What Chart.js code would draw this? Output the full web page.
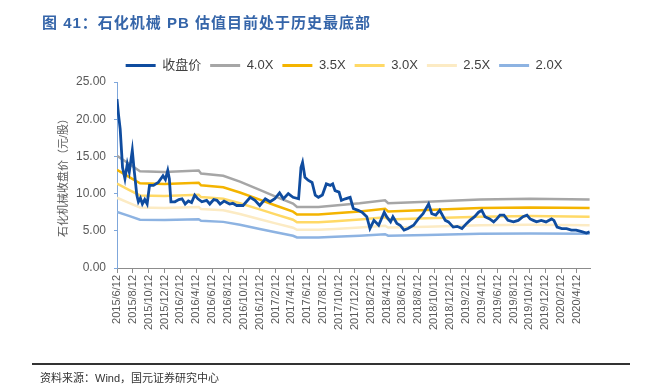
<!DOCTYPE html>
<html>
<head>
<meta charset="utf-8">
<script src="https://cdn.jsdelivr.net/npm/chart.js@4.4.0/dist/chart.umd.min.js"></script>
<style>
html, body { margin: 0; padding: 0; background: #fff; }
#wrap { position: relative; width: 662px; height: 392px; overflow: hidden; }
#title { position: absolute; left: 42px; top: 11px; font: bold 15px "Liberation Sans", "Noto Sans CJK SC", sans-serif; color: #3565a9; letter-spacing: 1px; white-space: nowrap; }
#rule { position: absolute; left: 32px; top: 363px; width: 598px; height: 2px; background: #333; }
#source { position: absolute; left: 40px; top: 369px; font: 11px "Liberation Sans", "Noto Sans CJK SC", sans-serif; color: #333; white-space: nowrap; }
#chart { position: absolute; left: 0; top: 0; }
</style>
</head>
<body>
<div id="wrap">
  <canvas id="chart" width="662" height="392"></canvas>
  <div id="title">图 41：石化机械 PB 估值目前处于历史最底部</div>
  <div id="rule"></div>
  <div id="source">资料来源：Wind，国元证券研究中心</div>
</div>
<script>
// x positions are months since 2015/6/12
var tickLabels = [
    '2015/6/12', '2015/8/12', '2015/10/12', '2015/12/12',
    '2016/2/12', '2016/4/12', '2016/6/12', '2016/8/12', '2016/10/12', '2016/12/12',
    '2017/2/12', '2017/4/12', '2017/6/12', '2017/8/12', '2017/10/12', '2017/12/12',
    '2018/2/12', '2018/4/12', '2018/6/12', '2018/8/12', '2018/10/12', '2018/12/12',
    '2019/2/12', '2019/4/12', '2019/6/12', '2019/8/12', '2019/10/12', '2019/12/12',
    '2020/2/12', '2020/4/12',
];

var seriesNames = ['收盘价', '4.0X', '3.5X', '3.0X', '2.5X', '2.0X'];

var priceMonths = [
    0, 0.2, 0.4, 0.7, 1.0, 1.3, 1.55, 1.93, 2.15, 2.5, 2.7, 2.95, 3.2, 3.5, 3.8,
    4.1, 4.6, 5.2, 5.8, 6.1, 6.4, 6.6, 6.8, 7.3, 7.8, 8.2, 8.6, 9.0, 9.4, 9.8,
    10.2, 10.7, 11.3, 11.7, 12.2, 12.6, 13.0, 13.5, 14.2, 14.6, 15.1, 15.9, 16.8, 17.4, 18.0,
    18.7, 19.3, 19.9, 20.5, 21.0, 21.6, 22.2, 22.9, 23.2, 23.4, 23.7, 24.1, 24.6, 25.0, 25.4,
    25.9, 26.4, 26.9, 27.2, 27.5, 28.0, 28.3, 28.8, 29.4, 29.8, 30.4, 30.9, 31.5, 31.9, 32.4,
    33.0, 33.7, 34.0, 34.5, 34.8, 35.3, 35.7, 36.2, 36.7, 37.4, 38.0, 38.6, 39.3, 39.7, 40.2,
    40.7, 41.4, 41.8, 42.4, 42.9, 43.5, 44.1, 44.5, 45.1, 45.6, 46.0, 46.4, 47.0, 47.5, 47.9,
    48.3, 48.8, 49.3, 50.0, 50.6, 51.2, 51.7, 52.1, 52.5, 52.9, 53.5, 54.1, 54.8, 55.1, 55.5,
    56.1, 56.7, 57.3, 57.9, 58.6, 59.2, 59.6,
];
var priceValues = [
    22.7, 20.5, 18.7, 13.5, 12.0, 14.0, 12.9, 15.8, 13.3, 9.8, 8.9, 9.4, 8.6, 9.2, 8.6,
    11.1, 11.1, 11.5, 12.4, 11.9, 13.1, 12.0, 8.9, 8.9, 9.2, 9.3, 8.6, 9.0, 8.8, 9.8,
    9.3, 8.9, 9.1, 8.6, 9.2, 9.1, 8.6, 9.0, 8.6, 8.7, 8.4, 8.4, 9.5, 9.1, 8.4,
    9.3, 8.9, 9.3, 10.1, 9.3, 10.0, 9.5, 9.3, 13.5, 14.2, 12.2, 11.8, 11.5, 9.8, 9.5,
    9.8, 11.3, 11.1, 11.3, 10.4, 10.2, 9.1, 9.3, 9.5, 8.0, 7.75, 7.5, 6.9, 5.3, 6.4,
    5.75, 7.5, 6.9, 6.2, 6.9, 6.0, 5.75, 5.1, 5.3, 5.75, 6.6, 7.3, 8.6, 7.3, 7.1,
    7.75, 6.4, 6.2, 5.5, 5.6, 5.3, 6.0, 6.4, 6.9, 7.5, 7.75, 6.9, 6.6, 6.2, 6.6,
    7.1, 7.1, 6.4, 6.2, 6.4, 6.9, 7.1, 6.6, 6.4, 6.2, 6.4, 6.2, 6.6, 6.4, 5.5,
    5.3, 5.3, 5.1, 5.1, 4.9, 4.7, 4.85,
];

var bandMonths = [0, 1.5, 2.9, 6, 10.3, 10.6, 13.4, 15.5, 18, 20, 22.2, 22.7, 25.4, 27.5, 30.6, 33.8, 34.2, 39.1, 45.8, 52.1, 59.6];
var pb40 = [15.1, 14.0, 13.0, 12.9, 13.1, 12.7, 12.4, 11.6, 10.5, 9.6, 8.65, 8.2, 8.2, 8.4, 8.7, 9.1, 8.7, 8.9, 9.2, 9.3, 9.2];
var pb35 = [13.21, 12.25, 11.38, 11.29, 11.46, 11.11, 10.85, 10.15, 9.19, 8.4, 7.57, 7.18, 7.18, 7.35, 7.61, 7.96, 7.61, 7.79, 8.05, 8.14, 8.05];
var pb30 = [11.33, 10.5, 9.75, 9.68, 9.83, 9.53, 9.3, 8.7, 7.88, 7.2, 6.49, 6.15, 6.15, 6.3, 6.53, 6.83, 6.53, 6.68, 6.9, 6.98, 6.9];
var pb25 = [9.44, 8.75, 8.13, 8.06, 8.19, 7.94, 7.75, 7.25, 6.56, 6.0, 5.41, 5.13, 5.13, 5.25, 5.44, 5.69, 5.44, 5.56, 5.75, 5.81, 5.75];
var pb20 = [7.55, 7.0, 6.5, 6.45, 6.55, 6.35, 6.2, 5.8, 5.25, 4.8, 4.33, 4.1, 4.1, 4.2, 4.35, 4.55, 4.35, 4.45, 4.6, 4.65, 4.6];

var lineColors = ['#0f4c9f', '#a6a6a6', '#f4b400', '#ffd966', '#fcebc4', '#8db3e2'];
var lineWidths = [2.8, 2.5, 2.5, 2.5, 2.5, 2.5];

function toPoints(xs, ys) {
    return xs.map(function (x, i) { return { x: x, y: ys[i] }; });
}

function makeDataset(i, xs, ys) {
    return {
        label: seriesNames[i],
        data: toPoints(xs, ys),
        borderColor: lineColors[i],
        backgroundColor: lineColors[i],
        pointBorderColor: lineColors[i],
        pointBorderWidth: 3,
        borderWidth: lineWidths[i],
        pointRadius: 0,
        tension: 0,
    };
}

var font = '"Liberation Sans", "Noto Sans CJK SC", sans-serif';

// shift the legend so it sits where the original puts it
var legendShift = {
    id: 'legendShift',
    afterLayout: function (chart) {
        if (chart.legend) {
            chart.legend.left += 22;
            chart.legend.right += 22;
        }
    }
};

const chart = new Chart(document.getElementById('chart').getContext('2d'), {
    type: 'line',
    data: {
        datasets: [
            makeDataset(0, priceMonths, priceValues),
            makeDataset(1, bandMonths, pb40),
            makeDataset(2, bandMonths, pb35),
            makeDataset(3, bandMonths, pb30),
            makeDataset(4, bandMonths, pb25),
            makeDataset(5, bandMonths, pb20),
        ],
    },
    options: {
        responsive: false,
        animation: false,
        devicePixelRatio: 1,
        layout: { padding: { left: 54, right: 72, top: 50, bottom: 50 } },
        plugins: {
            legend: {
                position: 'top',
                labels: {
                    usePointStyle: true,
                    pointStyle: 'line',
                    pointStyleWidth: 30,
                    boxWidth: 30,
                    padding: 9,
                    color: '#404040',
                    font: { family: font, size: 13 },
                },
            },
            tooltip: { enabled: false },
        },
        scales: {
            x: {
                type: 'linear',
                min: 0,
                max: 59.65,
                border: { color: '#8c8c8c' },
                grid: { drawOnChartArea: false, tickLength: 5, color: '#8c8c8c' },
                ticks: {
                    stepSize: 2,
                    autoSkip: false,
                    includeBounds: false,
                    maxRotation: 90,
                    minRotation: 90,
                    padding: 2,
                    color: '#595959',
                    font: { family: font, size: 11 },
                    callback: function (v) { return tickLabels[Math.round(v / 2)]; },
                },
                afterFit: function (scale) { scale.height = 74; },
            },
            y: {
                min: 0,
                max: 25,
                border: { color: '#7fa7db' },
                grid: { drawOnChartArea: false, tickLength: 3, color: '#7fa7db' },
                ticks: {
                    stepSize: 5,
                    padding: 8,
                    color: '#595959',
                    font: { family: font, size: 12 },
                    callback: function (v) { return v.toFixed(2); },
                },
                title: {
                    display: true,
                    text: '石化机械收盘价（元/股）',
                    color: '#595959',
                    padding: { top: 3, bottom: 0 },
                    font: { family: font, size: 11 },
                },
                afterFit: function (scale) { scale.width = 63; },
            },
        },
    },
    plugins: [legendShift],
});
</script>
</body>
</html>
